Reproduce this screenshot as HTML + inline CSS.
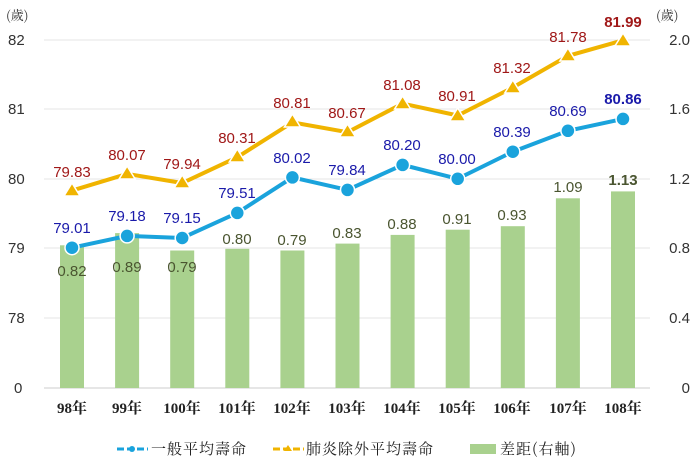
<!DOCTYPE html>
<html><head><meta charset="utf-8"><style>
body{margin:0;background:#fff}
svg{display:block;font-family:"Liberation Sans","Noto Sans CJK TC",sans-serif}
.ax{font-size:15px;fill:#333}
.b{fill:#1a1aaa;font-size:15px;text-anchor:middle}
.r{fill:#a01818;font-size:15px;text-anchor:middle}
.g{fill:#4a5530;font-size:15px;text-anchor:middle}
.x{font-family:"Liberation Serif","Noto Serif CJK SC",serif;font-size:15px;fill:#222;text-anchor:middle;font-weight:bold}
.lg{font-size:15px;fill:#222;font-family:"Noto Serif CJK SC",serif;letter-spacing:1px}
</style></head><body>
<svg width="696" height="464" viewBox="0 0 696 464">
<g stroke="#e4e4e4" stroke-width="1">
<line x1="44" y1="40" x2="650" y2="40"/><line x1="44" y1="109" x2="650" y2="109"/>
<line x1="44" y1="179" x2="650" y2="179"/><line x1="44" y1="248" x2="650" y2="248"/>
<line x1="44" y1="318" x2="650" y2="318"/></g>
<line x1="44" y1="388" x2="650" y2="388" stroke="#ccc"/>
<text x="6" y="20" style="font-size:13px;fill:#333;font-family:'Noto Serif CJK SC',serif">(歲)</text>
<text x="656" y="20" style="font-size:13px;fill:#333;font-family:'Noto Serif CJK SC',serif">(歲)</text>
<g class="ax"><text x="8" y="45">82</text><text x="8" y="114">81</text><text x="8" y="184">80</text><text x="8" y="253">79</text><text x="8" y="323">78</text><text x="14" y="393">0</text></g>
<g class="ax" text-anchor="end"><text x="690" y="45">2.0</text><text x="690" y="114">1.6</text><text x="690" y="184">1.2</text><text x="690" y="253">0.8</text><text x="690" y="323">0.4</text><text x="690" y="393">0</text></g>
<g fill="#a9d18e">
<rect x="60" y="245.3" width="24" height="142.7"/><rect x="115.1" y="233.1" width="24" height="154.9"/>
<rect x="170.2" y="250.5" width="24" height="137.5"/><rect x="225.3" y="248.8" width="24" height="139.2"/>
<rect x="280.4" y="250.5" width="24" height="137.5"/><rect x="335.5" y="243.6" width="24" height="144.4"/>
<rect x="390.6" y="234.9" width="24" height="153.1"/><rect x="445.7" y="229.7" width="24" height="158.3"/>
<rect x="500.8" y="226.2" width="24" height="161.8"/><rect x="555.9" y="198.3" width="24" height="189.7"/>
<rect x="611" y="191.4" width="24" height="196.6"/></g>
<g class="g"><text x="72" y="276">0.82</text><text x="127" y="272">0.89</text><text x="182" y="272">0.79</text>
<text x="237" y="244">0.80</text><text x="292" y="245">0.79</text><text x="347" y="238">0.83</text>
<text x="402" y="229">0.88</text><text x="457" y="224">0.91</text><text x="512" y="220">0.93</text>
<text x="568" y="192">1.09</text><text x="623" y="185" style="font-weight:bold">1.13</text></g>
<polyline fill="none" stroke="#f0b400" stroke-width="4" points="72,190.6 127.1,173.9 182.2,183 237.3,157.2 292.4,122.4 347.5,132.2 402.6,103.6 457.7,115.5 512.8,87.5 567.9,55.9 623,40.3"/>
<g fill="#f0b400" stroke="#fff" stroke-width="1.5">
<path d="M72,183 l8,13 h-16z"/><path d="M127.1,166 l8,13 h-16z"/><path d="M182.2,175 l8,13 h-16z"/><path d="M237.3,149 l8,13 h-16z"/>
<path d="M292.4,114 l8,13 h-16z"/><path d="M347.5,124 l8,13 h-16z"/><path d="M402.6,96 l8,13 h-16z"/><path d="M457.7,108 l8,13 h-16z"/>
<path d="M512.8,80 l8,13 h-16z"/><path d="M567.9,48 l8,13 h-16z"/><path d="M623,33 l8,13 h-16z"/></g>
<polyline fill="none" stroke="#1aa3dc" stroke-width="4" points="72,247.7 127.1,235.9 182.2,238 237.3,212.9 292.4,177.4 347.5,189.9 402.6,164.9 457.7,178.8 512.8,151.7 567.9,130.8 623,118.9"/>
<g fill="#1aa3dc" stroke="#fff" stroke-width="1.5">
<circle cx="72" cy="247.7" r="7"/><circle cx="127.1" cy="235.9" r="7"/><circle cx="182.2" cy="238" r="7"/><circle cx="237.3" cy="212.9" r="7"/>
<circle cx="292.4" cy="177.4" r="7"/><circle cx="347.5" cy="189.9" r="7"/><circle cx="402.6" cy="164.9" r="7"/><circle cx="457.7" cy="178.8" r="7"/>
<circle cx="512.8" cy="151.7" r="7"/><circle cx="567.9" cy="130.8" r="7"/><circle cx="623" cy="118.9" r="7"/></g>
<g class="b"><text x="72" y="233">79.01</text><text x="127" y="221">79.18</text><text x="182" y="223">79.15</text><text x="237" y="198">79.51</text>
<text x="292" y="163">80.02</text><text x="347" y="175">79.84</text><text x="402" y="150">80.20</text><text x="457" y="164">80.00</text>
<text x="512" y="137">80.39</text><text x="568" y="116">80.69</text><text x="623" y="104" style="font-weight:bold">80.86</text></g>
<g class="r"><text x="72" y="177">79.83</text><text x="127" y="160">80.07</text><text x="182" y="169">79.94</text><text x="237" y="143">80.31</text>
<text x="292" y="108">80.81</text><text x="347" y="118">80.67</text><text x="402" y="90">81.08</text><text x="457" y="101">80.91</text>
<text x="512" y="73">81.32</text><text x="568" y="42">81.78</text><text x="623" y="27" style="font-weight:bold">81.99</text></g>
<g class="x"><text x="72" y="413">98年</text><text x="127" y="413">99年</text><text x="182" y="413">100年</text><text x="237" y="413">101年</text>
<text x="292" y="413">102年</text><text x="347" y="413">103年</text><text x="402" y="413">104年</text><text x="457" y="413">105年</text>
<text x="512" y="413">106年</text><text x="568" y="413">107年</text><text x="623" y="413">108年</text></g>
<line x1="117" y1="449" x2="148" y2="449" stroke="#1aa3dc" stroke-width="3" stroke-dasharray="7,3"/><circle cx="132" cy="449" r="3" fill="#1aa3dc"/>
<text x="151" y="454" class="lg">一般平均壽命</text>
<line x1="273" y1="449" x2="304" y2="449" stroke="#f0b400" stroke-width="3" stroke-dasharray="7,3"/><path d="M288,445 l4,6 h-8z" fill="#f0b400"/>
<text x="306" y="454" class="lg">肺炎除外平均壽命</text>
<rect x="470" y="444" width="26" height="10" fill="#a9d18e"/>
<text x="500" y="454" class="lg">差距(右軸)</text>
</svg>
</body></html>
